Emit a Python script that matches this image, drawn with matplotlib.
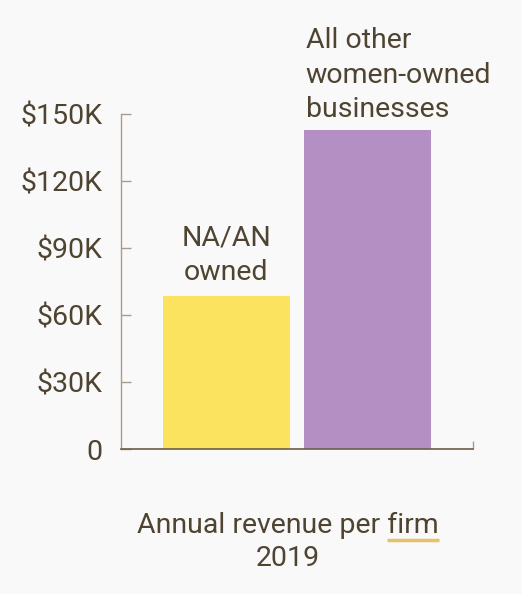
import matplotlib
matplotlib.use("Agg")
import matplotlib.pyplot as plt
from matplotlib.lines import Line2D

categories = ["NA/AN\nowned", "All other\nwomen-owned\nbusinesses"]
values = [68500, 142800]
colors = ["#fbe35f", "#b38fc4"]
yticks = [0, 30000, 60000, 90000, 120000, 150000]
yticklabels = ["0", "$30K", "$60K", "$90K", "$120K", "$150K"]
title_line1 = "Annual revenue per firm"
title_line2 = "2019"

TEXT = "#4f4431"
AXIS = "#a89c8c"
BG = "#f9f9f9"
FS = 20.5

plt.rcParams['font.family'] = ['Roboto', 'DejaVu Sans']

fig = plt.figure(figsize=(5.22, 5.94), dpi=100, facecolor=BG)
ax = fig.add_axes([121/522, 145/594, 352/522, 335/594])
ax.set_facecolor(BG)

x = list(range(len(values)))
bars = ax.bar(x, values, width=0.9, color=colors, zorder=2)
ax.set_xlim(-0.748, 1.748)
ax.set_ylim(0, 150000)

for s in ["top", "right"]:
    ax.spines[s].set_visible(False)
ax.spines["left"].set_color(AXIS)
ax.spines["bottom"].set_color("#6b5e48")
ax.spines["left"].set_linewidth(1.0)
ax.spines["bottom"].set_linewidth(1.2)

ax.set_yticks(yticks)
ax.set_yticklabels(yticklabels)
ax.tick_params(axis="y", direction="in", length=7, width=1, color=AXIS,
               labelsize=FS, labelcolor=TEXT, pad=13)
ax.set_xticks([1.748])
ax.set_xticklabels([""])
ax.tick_params(axis="x", direction="in", length=6, width=1, color=AXIS)

# bar labels
b0 = bars[0]
ax.text(b0.get_x() + b0.get_width()/2, values[0] + 7200, categories[0],
        ha="center", va="baseline", fontsize=FS, color=TEXT, linespacing=1.36)
b1 = bars[1]
ax.text(b1.get_x() + 0.012, values[1] + 5800, categories[1],
        ha="left", va="baseline", fontsize=FS, color=TEXT, linespacing=1.36)

# bottom title
t1 = fig.text(288/522, 1 - 525/594, title_line1, ha="center", va="center",
              fontsize=FS, color=TEXT)
fig.text(288/522, 1 - 559/594, title_line2, ha="center", va="center",
         fontsize=FS, color=TEXT)

# underline under "firm"
fig.canvas.draw()
r = fig.canvas.get_renderer()
bb = t1.get_window_extent(r)
prefix = fig.text(0, 0, "Annual revenue per ", fontsize=FS)
pw = prefix.get_window_extent(r).width
prefix.remove()
word = fig.text(0, 0, "firm", fontsize=FS)
ww = word.get_window_extent(r).width
word.remove()
x0 = (bb.x0 + pw) / fig.bbox.width
x1 = (bb.x0 + pw + ww) / fig.bbox.width
yline = 1 - 540/594
fig.add_artist(Line2D([x0, x1], [yline, yline], transform=fig.transFigure,
                      color="#e8c06a", linewidth=2.5, solid_capstyle="butt"))

fig.savefig("out.png", dpi=100, facecolor=BG)
